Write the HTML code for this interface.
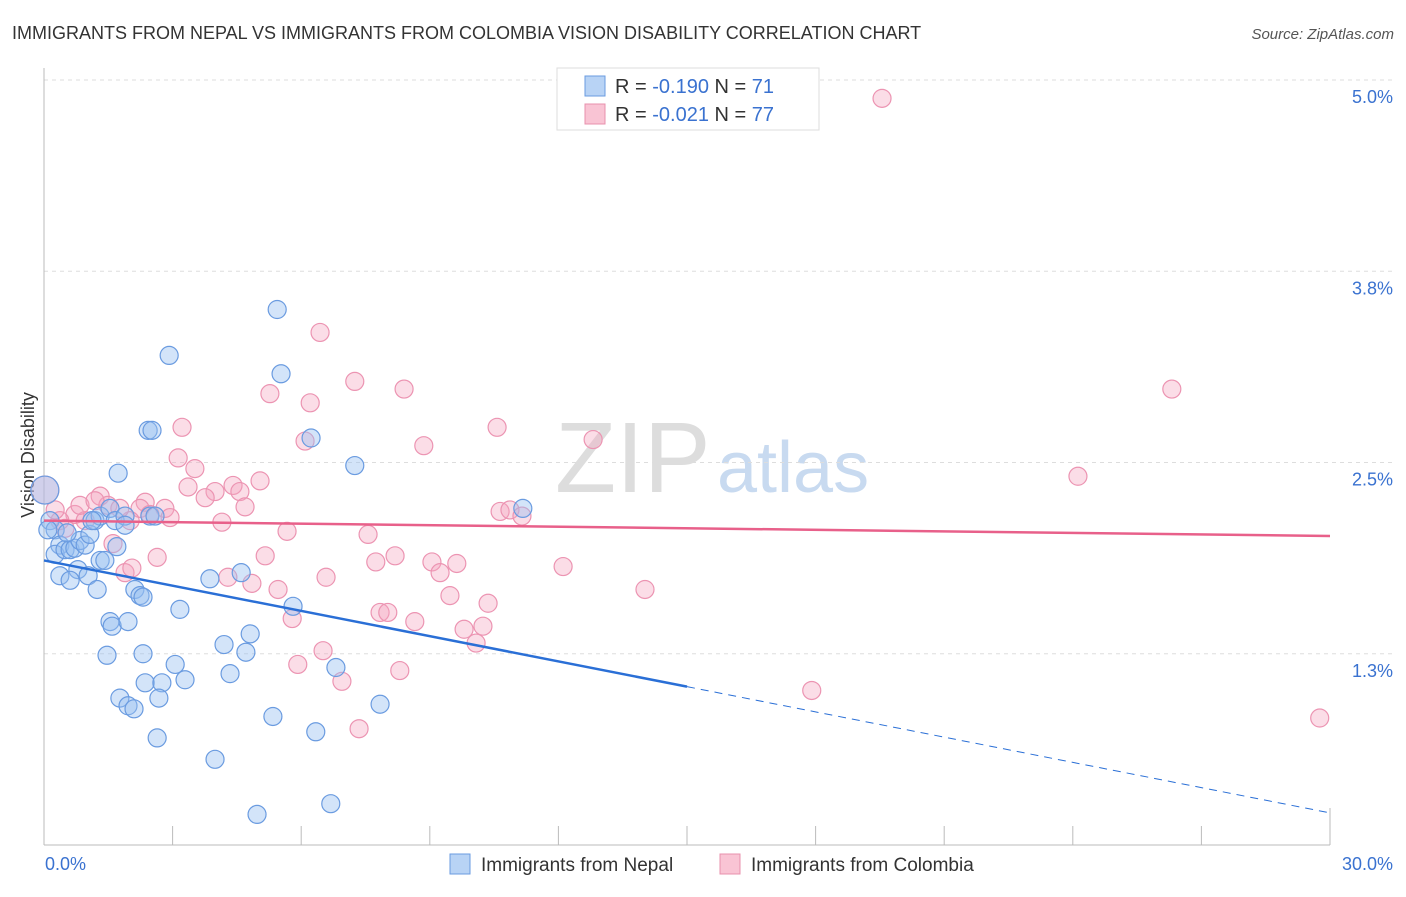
<!DOCTYPE html>
<html><head><meta charset="utf-8"><style>
body{margin:0;background:#fff;font-family:"Liberation Sans",sans-serif;}
svg text{font-family:"Liberation Sans",sans-serif;}
</style></head><body>
<svg id="chart" width="1406" height="892">
<text x="12" y="39" font-size="18" fill="#333">IMMIGRANTS FROM NEPAL VS IMMIGRANTS FROM COLOMBIA VISION DISABILITY CORRELATION CHART</text>
<text x="1394" y="39" font-size="15" fill="#555" font-style="italic" text-anchor="end">Source: ZipAtlas.com</text>
<text x="0" y="0" transform="translate(34,455) rotate(-90)" font-size="18" fill="#333" text-anchor="middle">Vision Disability</text>
<text x="555" y="492" font-size="100" fill="#ddd" font-family="Liberation Serif">ZIP</text>
<text x="717" y="492" font-size="72" fill="#c8daf0">atlas</text>
<g id="grid"></g><g id="axes"></g><g id="pts"></g><g id="trend"></g>
<g>
<rect x="557" y="68" width="262" height="62" fill="#fff" stroke="#ddd"/>
<rect x="585" y="76" width="20" height="20" fill="#b8d3f5" stroke="#6a9be0"/>
<rect x="585" y="104" width="20" height="20" fill="#f9c4d4" stroke="#e890ad"/>
<text x="615" y="93" font-size="20" fill="#333">R = <tspan fill="#3a72d0">-0.190</tspan>   N = <tspan fill="#3a72d0">71</tspan></text>
<text x="615" y="121" font-size="20" fill="#333">R = <tspan fill="#3a72d0">-0.021</tspan>   N = <tspan fill="#3a72d0">77</tspan></text>
</g>
<g><rect x="450" y="854" width="20" height="20" fill="#b8d3f5" stroke="#6a9be0"/><text x="481" y="871" font-size="19" fill="#333">Immigrants from Nepal</text></g>
<g><rect x="720" y="854" width="20" height="20" fill="#f9c4d4" stroke="#e890ad"/><text x="751" y="871" font-size="19" fill="#333">Immigrants from Colombia</text></g>
</svg>
<script>
const xTicks=[0,3,6,9,12,15,18,21,24,27,30];
const yTicks=[5.0,3.75,2.5,1.25];
const yTickLabels=["5.0%","3.8%","2.5%","1.3%"];
const nepalX=[5.44,2.92,5.53,2.43,2.52,6.23,7.25,1.73,11.17,0.02,0.14,0.26,0.37,0.26,0.49,0.61,0.72,0.84,0.96,1.07,1.19,1.31,1.54,1.66,1.89,1.89,2.47,2.59,0.37,0.79,1.03,1.31,1.42,1.70,1.24,2.12,2.24,2.31,3.17,3.87,4.60,5.81,1.54,1.59,1.96,1.47,2.31,4.81,4.20,4.71,3.06,6.81,3.29,2.36,2.75,4.34,1.77,1.96,2.10,2.68,7.84,5.34,2.64,6.34,3.99,6.69,4.97,0.09,0.54,1.12,0.61];
const nepalY=[3.50,3.20,3.08,2.71,2.71,2.66,2.48,2.43,2.20,2.32,2.12,2.06,1.96,1.90,1.93,1.93,1.94,1.99,1.96,2.03,2.12,2.15,2.20,2.12,2.15,2.09,2.15,2.15,1.76,1.80,1.76,1.86,1.86,1.95,1.67,1.67,1.63,1.62,1.54,1.74,1.78,1.56,1.46,1.43,1.46,1.24,1.25,1.38,1.31,1.26,1.18,1.16,1.08,1.06,1.06,1.12,0.96,0.91,0.89,0.96,0.92,0.84,0.70,0.74,0.56,0.27,0.20,2.06,2.04,2.12,1.73];
const nepalR=[9,9,9,9,9,9,9,9,9,14,9,9,9,9,9,9,9,9,9,9,9,9,9,9,9,9,9,9,9,9,9,9,9,9,9,9,9,9,9,9,9,9,9,9,9,9,9,9,9,9,9,9,9,9,9,9,9,9,9,9,9,9,9,9,9,9,9,9,9,9,9];
const colX=[19.55,6.44,7.25,8.40,5.27,6.21,3.22,10.57,12.81,8.86,6.09,26.31,3.13,3.52,5.04,24.12,3.36,4.41,4.57,3.99,3.76,2.36,1.31,1.49,2.24,2.82,2.94,0.72,0.37,0.49,0.96,4.69,4.15,5.67,7.56,10.64,10.87,11.15,1.61,5.16,8.19,2.64,1.89,2.05,4.29,4.85,6.58,7.74,9.05,9.63,9.24,12.11,5.46,9.47,14.02,10.36,7.84,8.02,8.65,5.79,9.80,10.24,10.08,6.51,5.92,8.30,6.95,17.91,29.76,7.35,0.02,0.26,0.84,1.19,2.01,2.47,1.77];
const colY=[4.88,3.35,3.03,2.98,2.95,2.89,2.73,2.73,2.65,2.61,2.64,2.98,2.53,2.46,2.38,2.41,2.34,2.35,2.31,2.31,2.27,2.24,2.28,2.22,2.20,2.20,2.14,2.16,2.12,2.07,2.12,2.21,2.11,2.05,2.03,2.18,2.19,2.15,1.97,1.89,1.89,1.88,1.78,1.81,1.75,1.71,1.75,1.85,1.85,1.84,1.78,1.82,1.67,1.63,1.67,1.58,1.52,1.52,1.46,1.48,1.41,1.43,1.32,1.27,1.18,1.14,1.07,1.01,0.83,0.76,2.32,2.19,2.22,2.25,2.12,2.16,2.20];
const nepalTrend=[1.86,0.21];
const colTrend=[2.12,2.02];
const X0=44,X1=1330,Y0=845,YTOP=80;
const sx=v=>X0+v/30*(X1-X0);
const sy=v=>Y0-v/5*(Y0-YTOP);
const NS="http://www.w3.org/2000/svg";
function mk(tag,attrs,parent){const e=document.createElementNS(NS,tag);for(const k in attrs)e.setAttribute(k,attrs[k]);parent.appendChild(e);return e;}
const grid=document.getElementById('grid'),axes=document.getElementById('axes'),pts=document.getElementById('pts'),trend=document.getElementById('trend');
yTicks.forEach((t,i)=>{
 const l=mk('line',{x1:X0,x2:1394,y1:sy(t),y2:sy(t),stroke:'#ddd','stroke-dasharray':'4,4'},grid);
 
 
 const tx=mk('text',{x:1393,y:sy(t)+23,'font-size':18,fill:'#3a72d0','text-anchor':'end'},grid);
 tx.textContent=yTickLabels[i];
 
 
});
const ya=mk('line',{x1:X0,x2:X0,y1:68,y2:Y0,stroke:'#bbb'},axes);


const xa=mk('line',{x1:X0,x2:X1,y1:Y0,y2:Y0,stroke:'#bbb'},axes);


xTicks.forEach(t=>{
 const l=mk('line',{x1:sx(t),x2:sx(t),y1:t===30?808:826,y2:Y0,stroke:'#bbb'},axes);
 
 
});
const xl0=mk('text',{x:45,y:870,'font-size':18,fill:'#3a72d0'},axes);xl0.textContent='0.0%';


const xl1=mk('text',{x:1393,y:870,'font-size':18,fill:'#3a72d0','text-anchor':'end'},axes);xl1.textContent='30.0%';


colX.forEach((v,i)=>{
 const c=mk('circle',{cx:sx(v),cy:sy(colY[i]),r:i===70?14:9,fill:'rgba(245,165,192,0.38)',stroke:'#ec94b2','stroke-width':1.2},pts);
 
 
});
nepalX.forEach((v,i)=>{
 const c=mk('circle',{cx:sx(v),cy:sy(nepalY[i]),r:nepalR[i],fill:'rgba(150,190,240,0.42)',stroke:'#6a9be0','stroke-width':1.2},pts);
 
 
});
const ny=x=>nepalTrend[0]+(nepalTrend[1]-nepalTrend[0])*x/30;
const t1=mk('line',{x1:sx(0),y1:sy(ny(0)),x2:sx(15),y2:sy(ny(15)),stroke:'#2a6fd6','stroke-width':2.5},trend);


const t2=mk('line',{x1:sx(15),y1:sy(ny(15)),x2:sx(30),y2:sy(ny(30)),stroke:'#2a6fd6','stroke-width':1,'stroke-dasharray':'8,6'},trend);


const t3=mk('line',{x1:sx(0),y1:sy(colTrend[0]),x2:sx(30),y2:sy(colTrend[1]),stroke:'#e8608a','stroke-width':2.5},trend);


</script>
</body></html>
